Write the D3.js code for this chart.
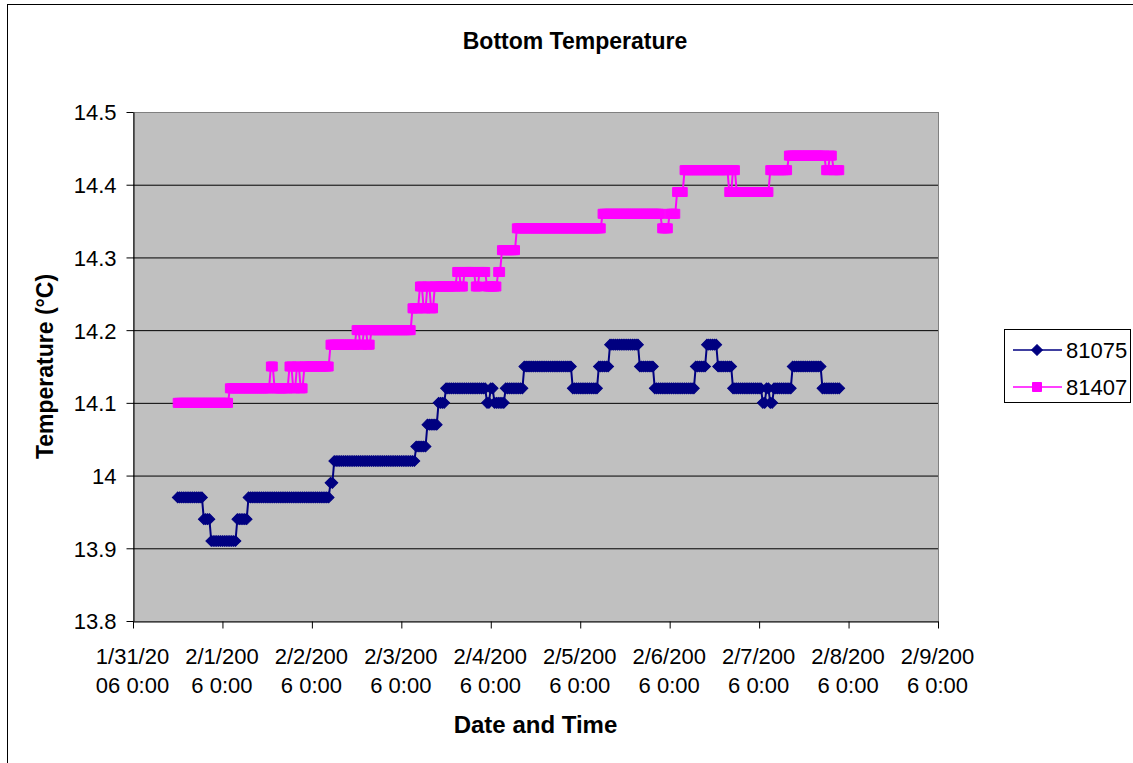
<!DOCTYPE html>
<html>
<head>
<meta charset="utf-8">
<script src="https://cdn.jsdelivr.net/npm/d3@7"></script>
<style>
  body { margin: 0; background: #fff; }
  svg { display: block; font-family: "Liberation Sans", Arial, sans-serif; }
</style>
</head>
<body>
<svg id="chart" width="1133" height="763"></svg>
<script>
"use strict";

// half-hourly logger readings, stored as runs: level value + number of readings it held
const startTime = new Date(2006, 0, 31, 12, 0);
const stepMinutes = 30;

const levels81075 = [13.97, 13.94, 13.91, 13.94, 13.97, 13.99, 14.02, 14.04, 14.07, 14.10,
  14.12, 14.10, 14.12, 14.10, 14.12, 14.15, 14.12, 14.15, 14.18, 14.15,
  14.12, 14.15, 14.18, 14.15, 14.12, 14.10, 14.12, 14.10, 14.12, 14.15, 14.12];
const counts81075 = [14, 4, 14, 6, 44, 2, 44, 6, 6, 4,
  22, 2, 2, 6, 10, 26, 14, 6, 16, 8,
  22, 6, 6, 8, 16, 2, 2, 2, 10, 16, 10];

const levels81407 = [14.10, 14.12, 14.15, 14.12, 14.15, 14.12, 14.15, 14.12, 14.15, 14.18,
  14.20, 14.18, 14.20, 14.18, 14.20, 14.23, 14.26, 14.23, 14.26, 14.23,
  14.26, 14.28, 14.26, 14.28, 14.26, 14.28, 14.26, 14.28, 14.31, 14.34,
  14.36, 14.34, 14.36, 14.39, 14.42, 14.39, 14.42, 14.39, 14.42, 14.44,
  14.42, 14.44, 14.42];
const counts81407 = [28, 22, 2, 8, 2, 2, 2, 2, 14, 14,
  2, 2, 2, 2, 22, 4, 2, 2, 2, 2,
  12, 2, 2, 6, 2, 4, 6, 2, 8, 46,
  32, 4, 4, 4, 24, 2, 2, 18, 10, 20,
  2, 2, 4];

const seriesNames = ["81075", "81407"];
const seriesColors = ["#000080", "#FF00FF"];

const yTicks = [13.8, 13.9, 14.0, 14.1, 14.2, 14.3, 14.4, 14.5];
const yTickLabels = ["13.8", "13.9", "14", "14.1", "14.2", "14.3", "14.4", "14.5"];
const xTickLines = [
  ["1/31/20", "06 0:00"], ["2/1/200", "6 0:00"], ["2/2/200", "6 0:00"],
  ["2/3/200", "6 0:00"], ["2/4/200", "6 0:00"], ["2/5/200", "6 0:00"],
  ["2/6/200", "6 0:00"], ["2/7/200", "6 0:00"], ["2/8/200", "6 0:00"],
  ["2/9/200", "6 0:00"]
];

function expand(levels, counts) {
  let pts = [], n = 0;
  levels.forEach(function(v, i) {
    for (let k = 0; k < counts[i]; k++) {
      pts.push({ t: d3.timeMinute.offset(startTime, n * stepMinutes), v: v });
      n++;
    }
  });
  return pts;
}

const series = [expand(levels81075, counts81075), expand(levels81407, counts81407)];

let svg = d3.select("#chart"),
  plot = { left: 133, right: 938, top: 112, bottom: 621 },
  x = d3.scaleTime()
    .domain([new Date(2006, 0, 31), new Date(2006, 1, 9)])
    .range([plot.left, plot.right]),
  y = d3.scaleLinear().domain([13.8, 14.5]).range([plot.bottom, plot.top])
;

// outer chart frame (runs off the right/bottom of the picture)
svg.append("rect")
  .attr("x", 7.5).attr("y", 4.5)
  .attr("width", 1200).attr("height", 800)
  .attr("fill", "#fff").attr("stroke", "#000");

svg.append("text")
  .attr("x", 575).attr("y", 49)
  .attr("text-anchor", "middle")
  .attr("font-size", 23).attr("font-weight", "bold")
  .text("Bottom Temperature");

// plot area
svg.append("rect")
  .attr("x", plot.left + 0.5).attr("y", plot.top + 0.5)
  .attr("width", plot.right - plot.left).attr("height", plot.bottom - plot.top)
  .attr("fill", "#C0C0C0").attr("stroke", "#808080");

// gridlines
svg.append("g")
  .attr("transform", "translate(" + plot.left + ",0)")
  .call(d3.axisRight(y).tickValues(yTicks.slice(1, -1)).tickSize(plot.right - plot.left).tickFormat(""))
  .call(g => g.select(".domain").remove())
  .selectAll("line").attr("stroke", "#000");

let yAxis = svg.append("g")
  .attr("transform", "translate(" + (plot.left + 0.5) + ",0)")
  .call(d3.axisLeft(y).tickValues(yTicks).tickSize(7).tickSizeOuter(0)
    .tickFormat(function(d, i) { return yTickLabels[i]; }));
yAxis.selectAll("text").attr("font-size", 22).attr("fill", "#000")
  .attr("font-family", "Liberation Sans, Arial, sans-serif").attr("x", -17).attr("dy", "0.36em");
yAxis.selectAll("line").attr("stroke", "#000");
yAxis.select(".domain").attr("stroke", "#000");

let xAxis = svg.append("g")
  .attr("transform", "translate(0," + (plot.bottom + 0.5) + ")")
  .call(d3.axisBottom(x).ticks(d3.timeDay.every(1)).tickSize(7).tickSizeOuter(0).tickFormat(""));
xAxis.selectAll("line").attr("stroke", "#000");
xAxis.select(".domain").attr("stroke", "#000");
xAxis.selectAll(".tick").each(function(d, i) {
  let t = d3.select(this).append("text")
    .attr("fill", "#000").attr("font-size", 22)
    .attr("font-family", "Liberation Sans, Arial, sans-serif")
    .attr("text-anchor", "middle");
  t.append("tspan").attr("x", -1).attr("y", 42).text(xTickLines[i][0]);
  t.append("tspan").attr("x", -1).attr("y", 71).text(xTickLines[i][1]);
});

svg.append("text")
  .attr("x", (plot.left + plot.right) / 2).attr("y", 733)
  .attr("text-anchor", "middle")
  .attr("font-size", 24).attr("font-weight", "bold")
  .text("Date and Time");

svg.append("text")
  .attr("transform", "translate(53," + (plot.top + plot.bottom) / 2 + ") rotate(-90)")
  .attr("text-anchor", "middle")
  .attr("font-size", 23).attr("font-weight", "bold")
  .text("Temperature (\u00B0C)");

// series
let line = d3.line().x(d => x(d.t)).y(d => y(d.v));
let markers = [
  d3.symbol(d3.symbolSquare, 58),
  d3.symbol(d3.symbolSquare, 81)
];
let markerRotate = [45, 0];

series.forEach(function(data, s) {
  let g = svg.append("g");
  g.append("path")
    .datum(data)
    .attr("d", line)
    .attr("fill", "none")
    .attr("stroke", seriesColors[s])
    .attr("stroke-width", 2);
  g.selectAll(".m")
    .data(data)
    .enter().append("path")
      .attr("transform", d => "translate(" + x(d.t) + "," + y(d.v) + ") rotate(" + markerRotate[s] + ")")
      .attr("d", markers[s])
      .attr("fill", seriesColors[s])
      .attr("stroke", seriesColors[s])
      .attr("stroke-width", 1);
});

// legend
let legend = svg.append("g");
legend.append("rect")
  .attr("x", 1004.5).attr("y", 329.5).attr("width", 126).attr("height", 73)
  .attr("fill", "#fff").attr("stroke", "#000");
seriesNames.forEach(function(name, s) {
  let ly = 350 + s * 37;
  legend.append("line")
    .attr("x1", 1013).attr("x2", 1062).attr("y1", ly).attr("y2", ly)
    .attr("stroke", seriesColors[s]).attr("stroke-width", 1.5);
  legend.append("path")
    .attr("transform", "translate(1037," + ly + ") rotate(" + markerRotate[s] + ")")
    .attr("d", markers[s])
    .attr("fill", seriesColors[s]).attr("stroke", seriesColors[s]);
  legend.append("text")
    .attr("x", 1066).attr("y", ly + 8)
    .attr("font-size", 22)
    .text(name);
});
</script>
</body>
</html>
